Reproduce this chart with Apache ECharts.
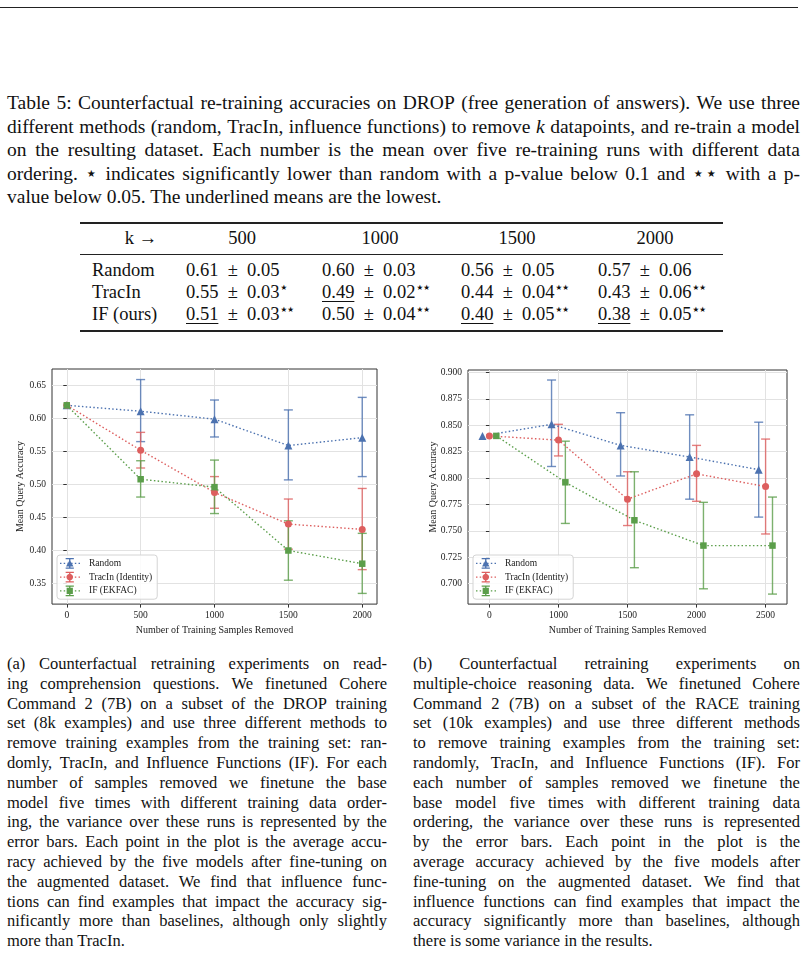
<!DOCTYPE html>
<html>
<head>
<meta charset="utf-8">
<script src="https://cdn.jsdelivr.net/npm/echarts@6/dist/echarts.min.js"></script>
<style>
body{margin:0;background:#fff;}
#page{position:relative;width:805px;height:955px;overflow:hidden;font-family:"Liberation Serif","Times New Roman",serif;color:#111;}
.rule{position:absolute;background:#222;}
.line{position:absolute;display:flex;justify-content:space-between;white-space:nowrap;}
.last{position:absolute;white-space:nowrap;}
.cell{position:absolute;white-space:nowrap;height:22px;line-height:22px;font-size:18.5px;}
.pm{margin:0 0.5em;}
.st{font-size:7.5px;position:relative;top:-8px;margin-left:1px;font-family:"DejaVu Sans",sans-serif;}
.ul{text-decoration:underline;text-underline-offset:3px;text-decoration-thickness:1px;}
.chart{position:absolute;}
</style>
</head>
<body>
<div id="page">
  <div class="rule" style="left:0;top:7px;width:798px;height:1px;"></div>
  <div id="chartA" class="chart" style="left:0;top:360px;width:400px;height:280px;"></div>
  <div id="chartB" class="chart" style="left:400px;top:360px;width:405px;height:280px;"></div>
</div>
<script>
// ---- texte ----
var tableCaption = [
  'Table 5: Counterfactual re-training accuracies on DROP (free generation of answers). We use three',
  'different methods (random, TracIn, influence functions) to remove <i>k</i> datapoints, and re-train a model',
  'on the resulting dataset. Each number is the mean over five re-training runs with different data',
  'ordering. \u22c6 indicates significantly lower than random with a p-value below 0.1 and \u22c6\u22c6 with a p-',
  'value below 0.05. The underlined means are the lowest.'
];
var captionA = [
  '(a) Counterfactual retraining experiments on read-',
  'ing comprehension questions. We finetuned Cohere',
  'Command 2 (7B) on a subset of the DROP training',
  'set (8k examples) and use three different methods to',
  'remove training examples from the training set: ran-',
  'domly, TracIn, and Influence Functions (IF). For each',
  'number of samples removed we finetune the base',
  'model five times with different training data order-',
  'ing, the variance over these runs is represented by the',
  'error bars. Each point in the plot is the average accu-',
  'racy achieved by the five models after fine-tuning on',
  'the augmented dataset. We find that influence func-',
  'tions can find examples that impact the accuracy sig-',
  'nificantly more than baselines, although only slightly',
  'more than TracIn.'
];
var captionB = [
  '(b) Counterfactual retraining experiments on',
  'multiple-choice reasoning data. We finetuned Cohere',
  'Command 2 (7B) on a subset of the RACE training',
  'set (10k examples) and use three different methods',
  'to remove training examples from the training set:',
  'randomly, TracIn, and Influence Functions (IF). For',
  'each number of samples removed we finetune the',
  'base model five times with different training data',
  'ordering, the variance over these runs is represented',
  'by the error bars. Each point in the plot is the',
  'average accuracy achieved by the five models after',
  'fine-tuning on the augmented dataset. We find that',
  'influence functions can find examples that impact the',
  'accuracy significantly more than baselines, although',
  'there is some variance in the results.'
];

// ---- tableau ----
var tableCols = ['500', '1000', '1500', '2000'];
var tableRows = ['Random', 'TracIn', 'IF (ours)'];
var tableMeans = [[0.61, 0.60, 0.56, 0.57], [0.55, 0.49, 0.44, 0.43], [0.51, 0.50, 0.40, 0.38]];
var tableStds = [[0.05, 0.03, 0.05, 0.06], [0.03, 0.02, 0.04, 0.06], [0.03, 0.04, 0.05, 0.05]];
var tableStars = [[0, 0, 0, 0], [1, 2, 2, 2], [2, 2, 2, 2]];

// ---- figure (a) : DROP ----
var stepsA = ['0', '500', '1000', '1500', '2000'];
var yTicksA = [0.35, 0.40, 0.45, 0.50, 0.55, 0.60, 0.65];
var randomA = [0.620, 0.611, 0.599, 0.559, 0.571];
var randomLowA = [null, 0.565, 0.572, 0.507, 0.512];
var randomHighA = [null, 0.659, 0.628, 0.613, 0.632];
var tracinA = [0.620, 0.552, 0.488, 0.440, 0.432];
var tracinLowA = [null, 0.525, 0.464, 0.402, 0.371];
var tracinHighA = [null, 0.579, 0.512, 0.478, 0.494];
var ifA = [0.620, 0.508, 0.496, 0.400, 0.380];
var ifLowA = [null, 0.481, 0.456, 0.355, 0.335];
var ifHighA = [null, 0.536, 0.537, 0.445, 0.426];

// ---- figure (b) : RACE ----
var stepsB = ['0', '1000', '1500', '2000', '2500'];
var yTicksB = [0.700, 0.725, 0.750, 0.775, 0.800, 0.825, 0.850, 0.875, 0.900];
var randomB = [0.840, 0.851, 0.831, 0.820, 0.808];
var randomLowB = [null, 0.811, 0.802, 0.780, 0.763];
var randomHighB = [null, 0.893, 0.862, 0.860, 0.853];
var tracinB = [0.840, 0.836, 0.780, 0.804, 0.792];
var tracinLowB = [null, 0.821, 0.755, 0.778, 0.747];
var tracinHighB = [null, 0.851, 0.806, 0.831, 0.837];
var ifB = [0.840, 0.796, 0.760, 0.736, 0.736];
var ifLowB = [null, 0.757, 0.715, 0.695, 0.690];
var ifHighB = [null, 0.835, 0.806, 0.777, 0.782];

var methodNames = ['Random', 'TracIn (Identity)', 'IF (EKFAC)'];
var colors = ['#4c72b0', '#dd5e5e', '#5b9e4a'];
var page = document.getElementById('page');

// lignes justifiees, une par une (comme dans le pdf)
function placeLines(lines, left, width, top, lh, fs) {
  lines.forEach(function (txt, i) {
    var d = document.createElement('div');
    var css = 'left:' + left + 'px;top:' + (top + i * lh) + 'px;height:' + lh + 'px;line-height:' + lh + 'px;font-size:' + fs + 'px;';
    if (i === lines.length - 1) {
      d.className = 'last';
      d.innerHTML = txt;
    } else {
      d.className = 'line';
      css += 'width:' + width + 'px;';
      d.innerHTML = txt.split(/\s+/).map(function (w) { return '<span>' + w + '</span>'; }).join('');
    }
    d.style.cssText = css;
    page.appendChild(d);
  });
}
placeLines(tableCaption, 7, 793, 91.3, 23.4, 19.5);
placeLines(captionA, 7, 380, 654, 19.8, 16.5);
placeLines(captionB, 413, 387, 654, 19.8, 16.5);

function addDiv(cls, css, html) {
  var d = document.createElement('div');
  d.className = cls;
  d.style.cssText = css;
  d.innerHTML = html || '';
  page.appendChild(d);
}

// filets du tableau
addDiv('rule', 'left:80px;top:222px;width:643px;height:1.5px;');
addDiv('rule', 'left:80px;top:254px;width:643px;height:1px;');
addDiv('rule', 'left:80px;top:330px;width:643px;height:1.5px;');

var colLeft = [186, 322, 461, 598];
var colCenter = [242, 380, 517, 655];
var rowY = [270, 292, 314];
addDiv('cell', 'left:60px;top:227px;width:97px;text-align:right;', 'k \u2192');
tableCols.forEach(function (c, j) {
  addDiv('cell', 'left:' + (colCenter[j] - 50) + 'px;top:227px;width:100px;text-align:center;', c);
});
tableRows.forEach(function (r, i) {
  addDiv('cell', 'left:92px;top:' + (rowY[i] - 11) + 'px;', r);
  tableCols.forEach(function (c, j) {
    var col = tableMeans.map(function (row) { return row[j]; });
    var lowest = Math.min.apply(null, col);
    var m = tableMeans[i][j].toFixed(2);
    var html = (tableMeans[i][j] === lowest ? '<span class="ul">' + m + '</span>' : m) +
      '<span class="pm">\u00b1</span>' + tableStds[i][j].toFixed(2);
    if (tableStars[i][j]) html += '<span class="st">' + '\u2605\u2605'.slice(0, tableStars[i][j]) + '</span>';
    addDiv('cell', 'left:' + colLeft[j] + 'px;top:' + (rowY[i] - 11) + 'px;', html);
  });
});

// icone de legende : pointilles + barre d'erreur + marqueur (boite 200x110)
function legendIcon(kind) {
  var p = '';
  function rect(x, y, w, h) {
    p += 'M' + x + ' ' + y + 'L' + (x + w) + ' ' + y + 'L' + (x + w) + ' ' + (y + h) + 'L' + x + ' ' + (y + h) + 'Z';
  }
  for (var x = 0; x < 200; x += 38) rect(x, 48, 15, 14);
  rect(93, 0, 14, 110);
  rect(58, 0, 84, 13);
  rect(58, 97, 84, 13);
  if (kind === 'triangle') {
    p += 'M100 18L138 88L62 88Z';
  } else if (kind === 'circle') {
    var pts = [];
    for (var k = 0; k < 20; k++) {
      var a = k / 20 * Math.PI * 2;
      pts.push((100 + 34 * Math.cos(a)).toFixed(1) + ' ' + (55 + 34 * Math.sin(a)).toFixed(1));
    }
    p += 'M' + pts.join('L') + 'Z';
  } else {
    rect(68, 23, 64, 64);
  }
  return 'path://' + p;
}

function errorRender(color) {
  return function (params, api) {
    var x = api.value(0);
    var top = api.coord([x, api.value(2)]);
    var bot = api.coord([x, api.value(1)]);
    var w = 4.5;
    var st = { stroke: color, lineWidth: 1.4, opacity: 0.8 };
    return {
      type: 'group',
      children: [
        { type: 'line', shape: { x1: top[0], y1: top[1], x2: bot[0], y2: bot[1] }, style: st },
        { type: 'line', shape: { x1: top[0] - w, y1: top[1], x2: top[0] + w, y2: top[1] }, style: st },
        { type: 'line', shape: { x1: bot[0] - w, y1: bot[1], x2: bot[0] + w, y2: bot[1] }, style: st }
      ]
    };
  };
}

var symbols = ['triangle', 'circle', 'rect'];
var symbolSizes = [8, 7, 6.5];

function buildOption(cfg) {
  var series = [];
  cfg.means.forEach(function (vals, s) {
    var off = cfg.offsets[s];
    series.push({
      name: methodNames[s],
      type: 'custom',
      z: 2,
      renderItem: errorRender(colors[s]),
      encode: { x: 0, y: [1, 2] },
      data: cfg.lows[s].map(function (lo, i) {
        return lo == null ? null : [i + off, lo, cfg.highs[s][i]];
      }).filter(function (d) { return d; })
    });
    series.push({
      name: methodNames[s],
      type: 'line',
      z: 3 + s,
      symbol: symbols[s],
      symbolSize: symbolSizes[s],
      itemStyle: { color: colors[s] },
      lineStyle: { color: colors[s], width: 1.4, type: [1.5, 2.3] },
      data: vals.map(function (v, i) { return [i + off, v]; })
    });
  });
  var font = '"Liberation Serif","Times New Roman",serif';
  return {
    animation: false,
    backgroundColor: '#fff',
    grid: {
      left: cfg.grid[0], top: cfg.grid[1], width: cfg.grid[2], height: cfg.grid[3],
      show: true, borderColor: '#333', borderWidth: 1
    },
    legend: {
      orient: 'vertical',
      left: cfg.legend[0], top: cfg.legend[1],
      data: methodNames.map(function (n, s) {
        return { name: n, icon: legendIcon(symbols[s]), itemStyle: { color: colors[s], borderWidth: 0 } };
      }),
      itemWidth: 20, itemHeight: 11, itemGap: 3,
      padding: [3, 5, 3, 3],
      backgroundColor: 'rgba(255,255,255,0.85)',
      borderColor: '#d4d4d4', borderWidth: 1, borderRadius: 3,
      textStyle: { fontFamily: font, fontSize: 9.5, color: '#222', padding: [0, 0, 0, 4] }
    },
    xAxis: {
      type: 'value',
      min: cfg.xRange[0], max: cfg.xRange[1],
      name: 'Number of Training Samples Removed',
      nameLocation: 'middle', nameGap: 16,
      nameTextStyle: { fontFamily: font, fontSize: 10, color: '#222' },
      axisLine: { show: false },
      axisTick: { show: true, length: 3.5, lineStyle: { color: '#333' }, customValues: [0, 1, 2, 3, 4] },
      axisLabel: {
        customValues: [0, 1, 2, 3, 4], margin: 6,
        fontFamily: font, fontSize: 9.5, color: '#222',
        formatter: function (v) { return cfg.cats[Math.round(v)]; }
      },
      splitLine: { show: true, lineStyle: { color: '#e2e2e2', width: 1 } }
    },
    yAxis: {
      type: 'value',
      min: cfg.yRange[0], max: cfg.yRange[1],
      name: 'Mean Query Accuracy',
      nameLocation: 'middle', nameGap: cfg.yNameGap,
      nameMoveOverlap: false,
      nameTextStyle: { fontFamily: font, fontSize: 10, color: '#222' },
      axisLine: { show: false },
      axisTick: { show: true, length: 3.5, lineStyle: { color: '#333' }, customValues: cfg.yTicks },
      axisLabel: {
        customValues: cfg.yTicks, margin: 6,
        fontFamily: font, fontSize: 9.5, color: '#222',
        formatter: function (v) { return v.toFixed(cfg.digits); }
      },
      splitLine: { show: true, lineStyle: { color: '#e2e2e2', width: 1 } }
    },
    series: series
  };
}

var chartA = echarts.init(document.getElementById('chartA'));
chartA.setOption(buildOption({
  cats: stepsA,
  xRange: [-0.2, 4.2],
  yRange: [0.3188, 0.675],
  yTicks: yTicksA, digits: 2, yNameGap: 27,
  grid: [52, 9, 325, 236],
  legend: [57, 195],
  offsets: [0, 0, 0],
  means: [randomA, tracinA, ifA],
  lows: [randomLowA, tracinLowA, ifLowA],
  highs: [randomHighA, tracinHighA, ifHighA]
}));

var chartB = echarts.init(document.getElementById('chartB'));
chartB.setOption(buildOption({
  cats: stepsB,
  xRange: [-0.31, 4.31],
  yRange: [0.6805, 0.9025],
  yTicks: yTicksB, digits: 3, yNameGap: 30,
  grid: [68, 10, 319, 235],
  legend: [73, 195],
  offsets: [-0.1, 0, 0.1],
  means: [randomB, tracinB, ifB],
  lows: [randomLowB, tracinLowB, ifLowB],
  highs: [randomHighB, tracinHighB, ifHighB]
}));
</script>
</body>
</html>
